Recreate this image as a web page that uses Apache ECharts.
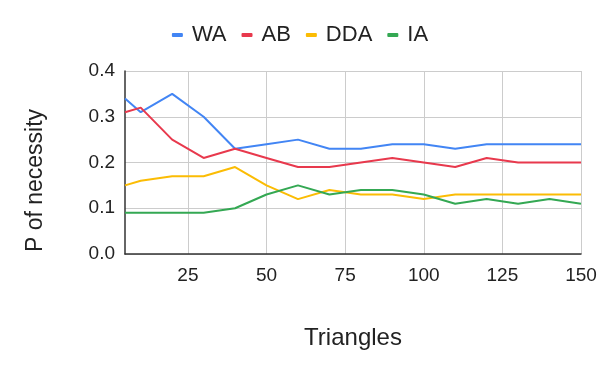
<!DOCTYPE html>
<html>
<head>
<meta charset="utf-8">
<script src="https://cdn.jsdelivr.net/npm/echarts@6/dist/echarts.min.js"></script>
<style>
  html, body { margin: 0; padding: 0; background: #fff; }
  #chart-container { width: 600px; height: 371px; }
</style>
</head>
<body>
<div id="chart-container"></div>
<script>
var triangles = [5, 10, 20, 30, 40, 50, 60, 70, 80, 90, 100, 110, 120, 130, 140, 150];
var wa  = [0.34, 0.31, 0.35, 0.30, 0.23, 0.24, 0.25, 0.23, 0.23, 0.24, 0.24, 0.23, 0.24, 0.24, 0.24, 0.24];
var ab  = [0.31, 0.32, 0.25, 0.21, 0.23, 0.21, 0.19, 0.19, 0.20, 0.21, 0.20, 0.19, 0.21, 0.20, 0.20, 0.20];
var dda = [0.15, 0.16, 0.17, 0.17, 0.19, 0.15, 0.12, 0.14, 0.13, 0.13, 0.12, 0.13, 0.13, 0.13, 0.13, 0.13];
var ia  = [0.09, 0.09, 0.09, 0.09, 0.10, 0.13, 0.15, 0.13, 0.14, 0.14, 0.13, 0.11, 0.12, 0.11, 0.12, 0.11];
var xTicks = [25, 50, 75, 100, 125, 150];
var seriesNames = ['WA', 'AB', 'DDA', 'IA'];
var seriesColors = ['#4285F4', '#E8394D', '#FBBC04', '#34A853'];

var dom = document.getElementById('chart-container');
var myChart = echarts.init(dom, null, { renderer: 'canvas' });

function pairs(ys) {
  return triangles.map(function (x, i) { return [x, ys[i]]; });
}

var allData = [wa, ab, dda, ia];

var option = {
  animation: false,
  textStyle: { fontFamily: '"Liberation Sans", Arial, sans-serif' },
  legend: {
    top: 19,
    left: 'center',
    icon: 'roundRect',
    itemWidth: 11,
    itemHeight: 4,
    itemGap: 15,
    textStyle: { fontSize: 22, color: '#222', padding: [0, 0, 0, 4] },
    data: seriesNames
  },
  grid: { left: 125, right: 19, top: 71, bottom: 117 },
  xAxis: {
    type: 'value',
    min: 5,
    max: 150,
    name: 'Triangles',
    nameLocation: 'middle',
    nameGap: 72,
    nameTextStyle: { fontSize: 24, color: '#222' },
    axisLine: { show: true, lineStyle: { color: '#333', width: 1.5 } },
    axisTick: { show: false, customValues: xTicks },
    axisLabel: { customValues: xTicks, fontSize: 19, color: '#222', margin: 12 },
    splitLine: { show: true, lineStyle: { color: '#ccc' } }
  },
  yAxis: {
    type: 'value',
    min: 0,
    max: 0.4,
    interval: 0.1,
    name: 'P of necessity',
    nameLocation: 'middle',
    nameGap: 78,
    nameTextStyle: { fontSize: 23, color: '#222', padding: [0, 36, 0, 0] },
    axisLine: { show: true, lineStyle: { color: '#333', width: 1.5 } },
    axisTick: { show: false },
    axisLabel: {
      fontSize: 19, color: '#222', margin: 10,
      formatter: function (v) { return v.toFixed(1); }
    },
    splitLine: { show: true, lineStyle: { color: '#ccc' } }
  },
  series: seriesNames.map(function (name, i) {
    return {
      name: name,
      type: 'line',
      data: pairs(allData[i]),
      showSymbol: false,
      symbol: 'none',
      color: seriesColors[i],
      lineStyle: { width: 2 }
    };
  })
};

myChart.setOption(option);
window.addEventListener('resize', myChart.resize);
</script>
</body>
</html>
